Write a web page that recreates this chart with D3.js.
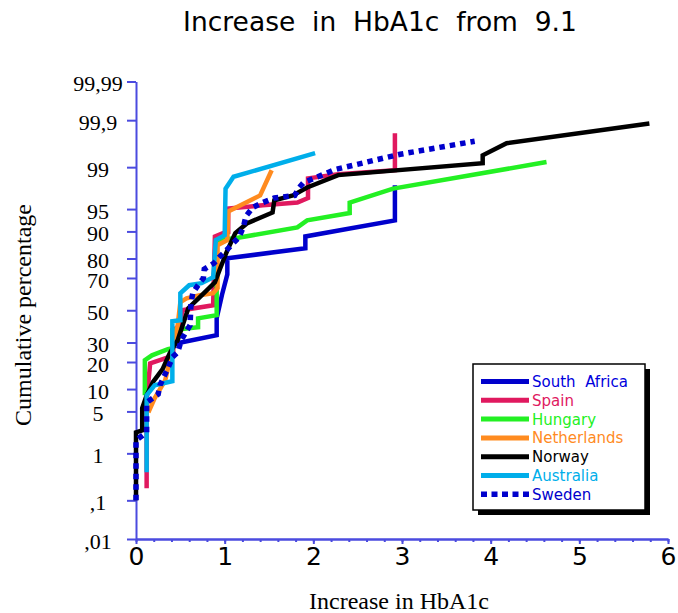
<!DOCTYPE html>
<html>
<head>
<meta charset="utf-8">
<script src="https://cdn.jsdelivr.net/npm/d3@7"></script>
<style>
  body { margin: 0; background: #fff; }
  svg { display: block; }
</style>
</head>
<body>
<svg id="chart" width="678" height="613"></svg>
<script>
// cumulative curves, [increase in HbA1c, cumulative %]
const southAfrica = [[0.41,29.0],[0.91,34.2],[0.91,44.8],[0.97,60],[1.03,72],[1.03,80.1],[1.91,84.3],[1.91,88.5],[2.92,92.8],[2.92,97.9]];
const spain = [[0.12,0.19],[0.12,7.2],[0.16,19.4],[0.36,22.2],[0.42,23.2],[0.42,37.3],[0.50,40.4],[0.52,50],[0.87,53.2],[0.89,88.5],[0.98,89.5],[1.04,89.8],[1.04,95.1],[1.43,95.6],[1.82,96.0],[1.94,96.6],[1.94,98.4],[2.28,98.65],[2.92,98.86],[2.92,99.80]];
const hungary = [[0.10,8.35],[0.10,20.8],[0.18,23.2],[0.36,26.3],[0.41,26.8],[0.41,37.3],[0.59,38.5],[0.70,39.1],[0.70,44.8],[0.91,46.8],[0.91,87.3],[1.12,87.9],[1.82,91.1],[1.93,92.8],[2.41,94.3],[2.41,96.0],[2.90,97.6],[4.63,99.20]];
const netherlands = [[0.14,4.86],[0.21,7.6],[0.33,12.8],[0.44,33.0],[0.47,40.4],[0.50,55.2],[0.57,57.7],[0.72,59.6],[0.87,60.9],[0.92,64.0],[0.92,85.5],[1.03,87.3],[1.04,94.6],[1.40,96.9],[1.53,98.86]];
const norway = [[0,0.1],[0,2.36],[0.07,2.55],[0.07,5.56],[0.12,8.35],[0.19,12.1],[0.30,16.9],[0.38,24.2],[0.47,31.3],[0.59,51.3],[0.72,58.4],[0.89,67.5],[0.95,75.3],[1.03,83.5],[1.12,89.5],[1.25,92.1],[1.54,94.4],[1.56,96.3],[1.77,96.9],[1.93,97.7],[2.28,98.6],[3.91,99.16],[3.91,99.41],[4.18,99.67],[5.79,99.88]];
const australia = [[0.12,0.42],[0.12,8.35],[0.21,11.1],[0.41,12.4],[0.41,42.9],[0.50,43.5],[0.50,60.9],[0.60,65.8],[0.74,67.0],[0.87,70.4],[0.90,87.3],[1.00,88.9],[1.01,97.6],[1.10,98.5],[2.02,99.47]];
const sweden = [[0,0.1],[0,1.73],[0.12,2.36],[0.12,6.7],[0.25,8.6],[0.27,11.1],[0.36,17.3],[0.41,22.2],[0.47,24.7],[0.51,31.3],[0.61,40.4],[0.62,54.5],[0.64,60.9],[0.70,65.8],[0.76,69.9],[0.77,74.8],[0.88,77.8],[0.94,80.6],[1.03,83.9],[1.16,88.2],[1.21,91.1],[1.24,93.7],[1.32,95.3],[1.43,96.0],[1.56,96.6],[1.79,96.9],[1.84,97.7],[1.89,98.1],[2.25,98.9],[2.98,99.44],[3.82,99.70]];

const countries = ["South  Africa", "Spain", "Hungary", "Netherlands", "Norway", "Australia", "Sweden"];
const seriesData = [southAfrica, spain, hungary, netherlands, norway, australia, sweden];
const colors = ["#0000cc", "#e0195f", "#23f023", "#ff8b1f", "#000000", "#00aeea", "#0000cc"];

const yTicks = [0.01, 0.1, 1, 5, 10, 20, 30, 50, 70, 80, 90, 95, 99, 99.9, 99.99];
const yLabels = [",01", ",1", "1", "5", "10", "20", "30", "50", "70", "80", "90", "95", "99", "99,9", "99,99"];
const xMajor = [0, 1, 2, 3, 4, 5, 6];

// inverse normal cdf (Acklam)
function probit(p) {
    const a = [-3.969683028665376e+01, 2.209460984245205e+02, -2.759285104469687e+02, 1.383577518672690e+02, -3.066479806614716e+01, 2.506628277459239e+00];
    const b = [-5.447609879822406e+01, 1.615858368580409e+02, -1.556989798598866e+02, 6.680131188771972e+01, -1.328068155288572e+01];
    const c = [-7.784894002430293e-03, -3.223964580411365e-01, -2.400758277161838e+00, -2.549732539343734e+00, 4.374664141464968e+00, 2.938163982698783e+00];
    const d = [7.784695709041462e-03, 3.224671290700398e-01, 2.445134137142996e+00, 3.754408661907416e+00];
    const pl = 0.02425;
    let q, r;
    if (p < pl) {
        q = Math.sqrt(-2 * Math.log(p));
        return (((((c[0]*q+c[1])*q+c[2])*q+c[3])*q+c[4])*q+c[5]) / ((((d[0]*q+d[1])*q+d[2])*q+d[3])*q+1);
    }
    if (p <= 1 - pl) {
        q = p - 0.5; r = q * q;
        return (((((a[0]*r+a[1])*r+a[2])*r+a[3])*r+a[4])*r+a[5])*q / (((((b[0]*r+b[1])*r+b[2])*r+b[3])*r+b[4])*r+1);
    }
    q = Math.sqrt(-2 * Math.log(1 - p));
    return -(((((c[0]*q+c[1])*q+c[2])*q+c[3])*q+c[4])*q+c[5]) / ((((d[0]*q+d[1])*q+d[2])*q+d[3])*q+1);
}

const axisColor = "#4b4bdf";
const svg = d3.select("#chart");

const x = d3.scaleLinear().domain([0, 6]).range([136, 668]);
const y = d3.scaleLinear()
    .domain([probit(0.0001), probit(0.9999)])
    .range([539, 81.5]);

// title
svg.append("text")
    .attr("x", 380).attr("y", 31)
    .attr("text-anchor", "middle")
    .style("white-space", "pre")
    .attr("font-family", "DejaVu Sans")
    .attr("font-size", 26.5)
    .text("Increase  in  HbA1c  from  9.1");

// y axis
const yAxis = svg.append("g")
    .attr("transform", "translate(136,0)")
    .call(d3.axisLeft(y)
        .tickValues(yTicks.map(p => probit(p / 100)))
        .tickFormat((d, i) => yLabels[i])
        .tickSize(9)
        .tickSizeOuter(0));
yAxis.selectAll("text")
    .attr("x", -38)
    .attr("dy", "0.42em")
    .attr("text-anchor", "middle")
    .attr("fill", "#000")
    .attr("font-family", "Liberation Serif")
    .attr("font-size", 22);

// x axis, minor then major ticks
svg.append("g")
    .attr("transform", "translate(0,539)")
    .call(d3.axisBottom(x)
        .tickValues(d3.range(0, 31).map(i => i / 5))
        .tickSize(3)
        .tickSizeOuter(0)
        .tickFormat(""));
const xAxis = svg.append("g")
    .attr("transform", "translate(0,539)")
    .call(d3.axisBottom(x)
        .tickValues(xMajor)
        .tickSize(5)
        .tickSizeOuter(0)
        .tickFormat(d3.format("d")));
xAxis.selectAll("text")
    .attr("fill", "#000")
    .attr("font-family", "DejaVu Sans")
    .attr("font-size", 25);

svg.selectAll(".domain, .tick line")
    .attr("stroke", axisColor)
    .attr("stroke-width", 2);

// axis titles
svg.append("text")
    .attr("transform", "translate(31,315) rotate(-90)")
    .attr("text-anchor", "middle")
    .attr("font-family", "Liberation Serif")
    .attr("font-size", 24)
    .text("Cumulative percentage");

svg.append("text")
    .attr("x", 399).attr("y", 609)
    .attr("text-anchor", "middle")
    .attr("font-family", "Liberation Serif")
    .attr("font-size", 24)
    .text("Increase in HbA1c");

// curves
const line = d3.line()
    .x(d => x(d[0]))
    .y(d => y(probit(d[1] / 100)));

seriesData.forEach((data, i) => {
    const path = svg.append("path")
        .datum(data)
        .attr("d", line)
        .attr("fill", "none")
        .attr("stroke", colors[i])
        .attr("stroke-width", i === 6 ? 5.5 : 4.5)
        .attr("stroke-linejoin", "miter");
    if (i === 6) path.attr("stroke-dasharray", "5.5,5");
});

// legend
const legend = svg.append("g").attr("transform", "translate(473,364)");
legend.append("rect")
    .attr("x", 5).attr("y", 5)
    .attr("width", 172).attr("height", 146)
    .attr("fill", "#000");
legend.append("rect")
    .attr("width", 172).attr("height", 146)
    .attr("fill", "#fff")
    .attr("stroke", "#000")
    .attr("stroke-width", 1.5);

countries.forEach((name, i) => {
    const row = legend.append("g").attr("transform", `translate(0,${17.5 + i * 18.8})`);
    const l = row.append("line")
        .attr("x1", 8).attr("x2", 56)
        .attr("stroke", colors[i])
        .attr("stroke-width", i === 6 ? 5.5 : 5);
    if (i === 6) l.attr("stroke-dasharray", "6,4.5");
    row.append("text")
        .attr("x", 59).attr("dy", "0.36em")
        .style("white-space", "pre")
        .attr("fill", i === 0 ? "#0000dd" : colors[i])
        .attr("font-family", "DejaVu Sans")
        .attr("font-size", 15)
        .text(name);
});
</script>
</body>
</html>
